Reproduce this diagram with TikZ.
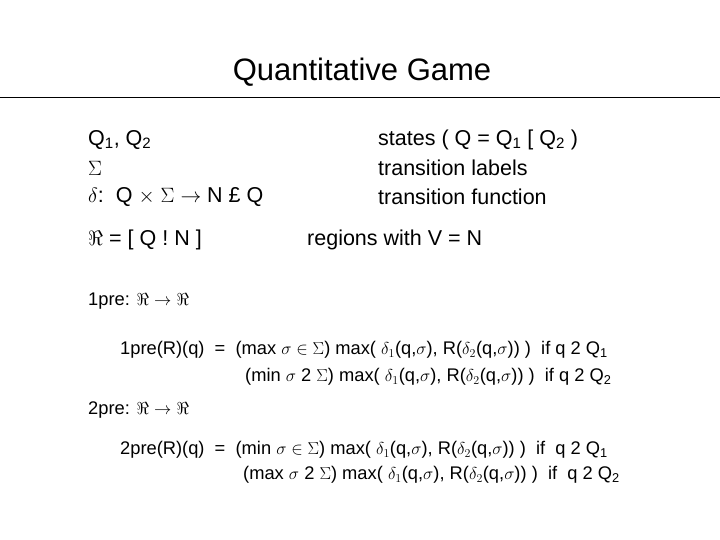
\documentclass[tikz,border=0pt]{standalone}
\usepackage{fontspec}
\setmainfont{Liberation Sans}
\usetikzlibrary{positioning}
\tikzset{
    body/.style = {anchor=west, inner sep=0pt, font=\fontsize{21.5}{25}\selectfont},
    small/.style = {anchor=west, inner sep=0pt, font=\fontsize{18.3}{21}\selectfont},
}
\newcommand{\dq}[1]{$\delta_{#1}$(q,$\sigma$)}
\begin{document}
\begin{tikzpicture}[x=1pt, y=-1pt]
            \useasboundingbox (0,0) rectangle (720,540);
            \node (title) [inner sep=0pt, font=\fontsize{31}{36}\selectfont] at (362,72) {Quantitative Game};
            \coordinate (rl) at (0,97);
            \coordinate (rr) at (720,97);
            \draw[line width=0.8pt] (rl) -- (rr);

            \node (q) [body] at (88,140) {Q\textsubscript{1}, Q\textsubscript{2}};
            \node (sig) [body] at (88,168) {$\Sigma$};
            \node (del) [body] at (88,197) {$\delta$:\ \ Q $\times$ $\Sigma$ $\rightarrow$ N £ Q};
            \node (st) [body] at (378,140) {states ( Q = Q\textsubscript{1} [ Q\textsubscript{2} )};
            \node (tl) [body] at (378,168) {transition labels};
            \node (tf) [body] at (378,197) {transition function};
            \node (reg) [body] at (88,240) {$\Re$ = [ Q ! N ]};
            \node (regt) [body] at (307,240) {regions with V = N};

            \node (p1) [small] at (88,301) {1pre: $\Re$ $\rightarrow$ $\Re$};
            \node (p1a) [small] at (120,350) {1pre(R)(q)\ \ =\ \ (max $\sigma\in\Sigma$) max( \dq1, R(\dq2) )\ \ if q 2 Q\textsubscript{1}};
            \node (p1b) [small] at (245,377) {(min $\sigma$ 2 $\Sigma$) max( \dq1, R(\dq2) )\ \ if q 2 Q\textsubscript{2}};
            \node (p2) [small] at (88,410) {2pre: $\Re$ $\rightarrow$ $\Re$};
            \node (p2a) [small] at (120,450) {2pre(R)(q)\ \ =\ \ (min $\sigma\in\Sigma$) max( \dq1, R(\dq2) )\ \ if\ \ q 2 Q\textsubscript{1}};
            \node (p2b) [small] at (243,475) {(max $\sigma$ 2 $\Sigma$) max( \dq1, R(\dq2) )\ \ if\ \ q 2 Q\textsubscript{2}};
        \end{tikzpicture}
\end{document}
